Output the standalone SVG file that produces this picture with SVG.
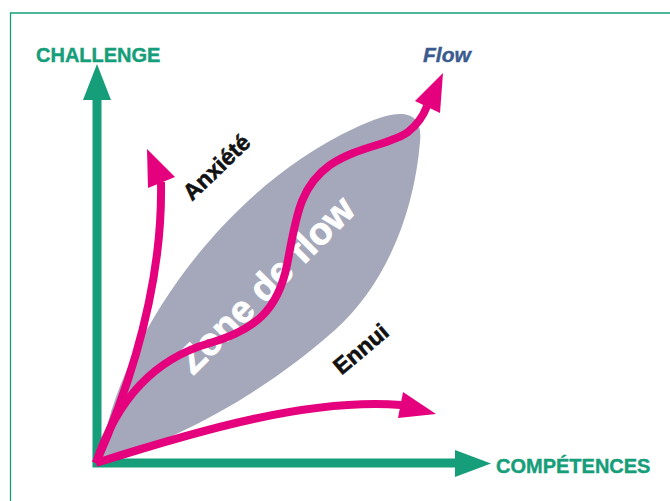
<svg xmlns="http://www.w3.org/2000/svg" width="670" height="501" viewBox="0 0 670 501">
<style>
.axis{fill:none;stroke:#159e79;stroke-width:9;stroke-linejoin:miter}
.ahead{fill:#159e79}
.curve{fill:none;stroke:#e5007e;stroke-width:8;stroke-linecap:butt}
.phead{fill:#e5007e}
.axlab{font-family:"Liberation Sans",Arial,sans-serif;font-weight:bold;font-size:20px;fill:#159e79;stroke:#159e79;stroke-width:0.4}
.lab{font-family:"Liberation Sans",Arial,sans-serif;font-weight:bold;font-size:23px;fill:#111111;stroke:#111111;stroke-width:0.6}
.zone{font-family:"Liberation Sans",Arial,sans-serif;font-weight:bold;font-size:38px;fill:#ffffff;stroke:#ffffff;stroke-width:0.8}
.flow{font-family:"Liberation Sans",Arial,sans-serif;font-weight:bold;font-style:italic;font-size:21px;fill:#3b5b8e;stroke:#3b5b8e;stroke-width:0.4}
</style>
<rect width="670" height="501" fill="#ffffff"/>
<path d="M10.5,501 V13 H670" fill="none" stroke="#159e79" stroke-width="1.3"/>
<g id="zone-de-flow">
<path d="M100,462 C115,345 220,190 355,128 C392,110 424,104 420,142 C414,215 385,285 335,330 C265,392 180,440 100,462 Z" fill="#a5a8ba"/>
<text class="zone" transform="translate(275,294) rotate(-45)" text-anchor="middle">Zone de flow</text>
</g>
<g id="axes">
<path class="axis" d="M97,100 V463 H457"/>
<polygon class="ahead" points="97,64 83,100 111,100"/>
<polygon class="ahead" points="491,463.5 455,450 455,477"/>
</g>
<g id="challenge"><text class="axlab" x="36" y="62">CHALLENGE</text></g>
<g id="competences"><text class="axlab" x="496" y="473">COMPÉTENCES</text></g>
<g id="connectors">
<path id="anxiete-curve" class="curve" d="M96,463 C128,390 163,290 161,182"/>
<polygon class="phead" points="147,149 148,188 175,177"/>
<path id="flow-curve" class="curve" d="M96,463 C115,405 150,360 210,343 C255,330 278,310 287,265 C296,220 298,188 330,165 C358,146 390,145 408,132 C418,124 423,117 427,106"/>
<polygon class="phead" points="443,73 415,101 440,113"/>
<path id="ennui-curve" class="curve" d="M96,463 C200,430 310,398 401,405"/>
<polygon class="phead" points="436,414 403,392 398,418"/>
</g>
<g id="anxiete"><text class="lab" transform="translate(222,173) rotate(-44)" text-anchor="middle">Anxiété</text></g>
<g id="ennui"><text class="lab" transform="translate(366,355) rotate(-40)" text-anchor="middle">Ennui</text></g>
<g id="flow"><text class="flow" x="423" y="62">Flow</text></g>
</svg>
